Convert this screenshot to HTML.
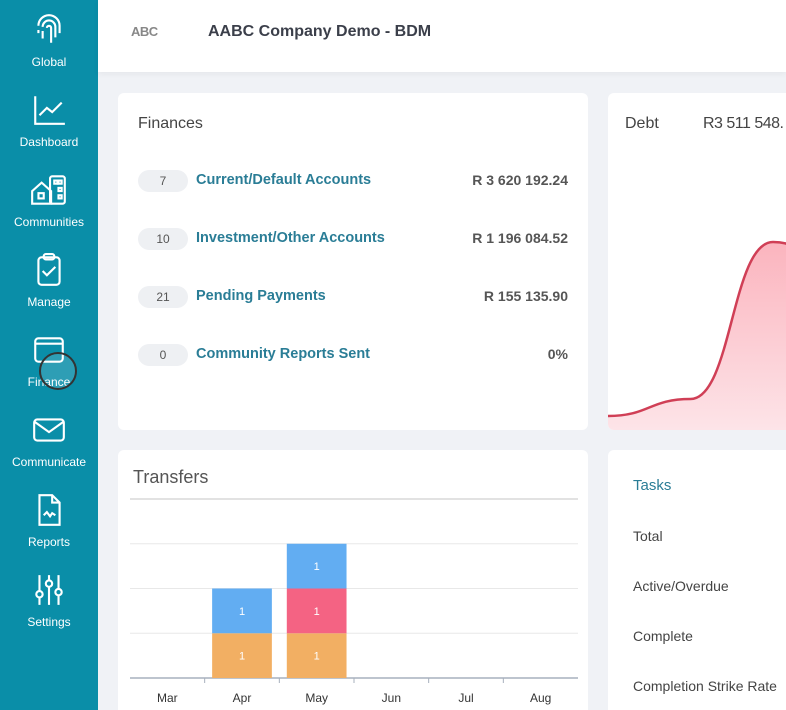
<!DOCTYPE html>
<html><head><meta charset="utf-8">
<style>
*{margin:0;padding:0;box-sizing:border-box}
html,body{width:786px;height:710px;overflow:hidden}
body{background:#f0f2f6;font-family:"Liberation Sans",sans-serif;position:relative}
#sidebar{position:absolute;left:0;top:0;width:98px;height:710px;background:#0a8ea8}
.nav{position:absolute;left:0;width:98px;text-align:center;color:#fff;font-size:12px}
.nav svg{display:block;margin:0 auto 7px}
#header{position:absolute;left:98px;top:0;width:688px;height:72px;background:#fff;box-shadow:0 2px 6px rgba(0,0,0,.05)}
.card{position:absolute;background:#fff;border-radius:6px}
.pill{position:absolute;left:20px;width:50px;height:22px;border-radius:11px;background:#eef0f3;color:#555;font-size:12px;text-align:center;line-height:22px}
.flink{position:absolute;left:78px;color:#2a7d96;font-weight:bold;font-size:14.5px}
.famt{position:absolute;right:20px;color:#555;font-weight:bold;font-size:14px}
.task{position:absolute;left:25px;color:#444;font-size:14px}
</style></head><body>
<div id="sidebar">
 <div class="nav" style="top:12px"><svg width="36" height="36" viewBox="0 0 34 34" fill="none" stroke="#fff" stroke-width="2"><path d="M7 13a10 10 0 0 1 20 0v7"/><path d="M11 14a6 6 0 0 1 12 0v10"/><path d="M15 15a2 2 0 0 1 4 0v14"/><path d="M11 18v7M7 17v3"/></svg>Global</div>
 <div class="nav" style="top:92px"><svg width="36" height="36" viewBox="0 0 34 34" fill="none" stroke="#fff" stroke-width="2"><path d="M4 4v26h28"/><path d="M8 22l7-7 5 4 9-9"/></svg>Dashboard</div>
 <div class="nav" style="top:172px"><svg width="40" height="36" viewBox="0 0 38 34" fill="none" stroke="#fff" stroke-width="2"><path d="M3 30V18l9-8 9 8v12z"/><rect x="20" y="4" width="14" height="26" rx="2"/><rect x="9" y="20" width="5" height="5"/><rect x="24" y="8" width="3" height="3"/><rect x="28" y="8" width="3" height="3"/><rect x="28" y="15" width="3" height="3"/><rect x="28" y="22" width="3" height="3"/></svg>Communities</div>
 <div class="nav" style="top:252px"><svg width="36" height="36" viewBox="0 0 34 34" fill="none" stroke="#fff" stroke-width="2"><rect x="7" y="5" width="20" height="26" rx="3"/><rect x="12" y="2" width="10" height="5" rx="2"/><path d="M11 18l4 4 8-8"/></svg>Manage</div>
 <div class="nav" style="top:332px"><svg width="36" height="36" viewBox="0 0 34 34" fill="none" stroke="#fff" stroke-width="2"><rect x="4" y="6" width="26" height="22" rx="3"/><path d="M4 11h26"/></svg>Finance</div>
 <div class="nav" style="top:412px"><svg width="36" height="36" viewBox="0 0 34 34" fill="none" stroke="#fff" stroke-width="2"><rect x="3" y="7" width="28" height="20" rx="3"/><path d="M3 9l14 10 14-10"/></svg>Communicate</div>
 <div class="nav" style="top:492px"><svg width="36" height="36" viewBox="0 0 34 34" fill="none" stroke="#fff" stroke-width="2"><path d="M8 3h12l7 7v21H8z"/><path d="M20 3v7h7"/><path d="M12 22l3-3 3 4 2-3 3 2"/></svg>Reports</div>
 <div class="nav" style="top:572px"><svg width="36" height="36" viewBox="0 0 34 34" fill="none" stroke="#fff" stroke-width="2"><path d="M8 3v28M17 3v28M26 3v28"/><circle cx="8" cy="21" r="3" fill="#0a8ea8"/><circle cx="17" cy="11" r="3" fill="#0a8ea8"/><circle cx="26" cy="19" r="3" fill="#0a8ea8"/></svg>Settings</div>
 <div style="position:absolute;left:39px;top:352px;width:38px;height:38px;border-radius:50%;border:2px solid #333;background:rgba(255,255,255,.15)"></div>
</div>
<div id="header">
 <div style="position:absolute;left:33px;top:24px;color:#888;font-weight:bold;font-size:13px;letter-spacing:-0.5px">ABC</div>
 <div style="position:absolute;left:110px;top:23px;color:#3b3f4a;font-weight:bold;font-size:16px">AABC Company Demo - BDM</div>
</div>
<div class="card" style="left:118px;top:93px;width:470px;height:337px">
 <div style="position:absolute;left:20px;top:22px;font-size:16px;color:#444">Finances</div>
 <div class="pill" style="top:77px">7</div>
 <div class="flink" style="top:79px">Current/Default Accounts</div>
 <div class="famt" style="top:79px">R 3 620 192.24</div>
 <div class="pill" style="top:135px">10</div>
 <div class="flink" style="top:137px">Investment/Other Accounts</div>
 <div class="famt" style="top:137px">R 1 196 084.52</div>
 <div class="pill" style="top:193px">21</div>
 <div class="flink" style="top:195px">Pending Payments</div>
 <div class="famt" style="top:195px">R 155 135.90</div>
 <div class="pill" style="top:251px">0</div>
 <div class="flink" style="top:253px">Community Reports Sent</div>
 <div class="famt" style="top:253px">0%</div>
</div>
<div class="card" style="left:608px;top:93px;width:190px;height:337px;overflow:hidden">
 <div style="position:absolute;left:17px;top:22px;font-size:16px;color:#444">Debt</div>
 <div style="position:absolute;left:95px;top:22px;font-size:16px;color:#444;white-space:nowrap;letter-spacing:-0.5px">R3 511 548.</div>
 <svg id="debt" width="190" height="337" style="position:absolute;left:0;top:0">
  <defs><linearGradient id="g" x1="0" y1="0" x2="0" y2="1"><stop offset="0" stop-color="#fbb4be"/><stop offset="1" stop-color="#fde4e8"/></linearGradient></defs>
 </svg>
</div>
<div class="card" style="left:118px;top:450px;width:470px;height:270px">
 <div style="position:absolute;left:15px;top:17px;font-size:18px;color:#555">Transfers</div>
 <svg id="tr" width="470" height="260" style="position:absolute;left:0;top:0"></svg>
</div>
<div class="card" style="left:608px;top:450px;width:190px;height:270px">
 <div style="position:absolute;left:25px;top:27px;font-size:15px;color:#2a7d96">Tasks</div>
 <div class="task" style="top:78px">Total</div>
 <div class="task" style="top:128px">Active/Overdue</div>
 <div class="task" style="top:178px">Complete</div>
 <div class="task" style="top:228px;white-space:nowrap">Completion Strike Rate</div>
</div>
<script>
const months=["Mar","Apr","May","Jun","Jul","Aug"];
const seriesOrange=[0,1,1,0,0,0];
const seriesRed=[0,0,1,0,0,0];
const seriesBlue=[0,1,1,0,0,0];
const yMax=4;
const debtValues=[14,31,188,150];
const NS="http://www.w3.org/2000/svg";
function mk(p,t,a){const e=document.createElementNS(NS,t);for(const k in a)e.setAttribute(k,a[k]);p.appendChild(e);return e;}
const tr=document.getElementById('tr');
const L=12,R=460,T=49,B=228,bw=(R-L)/months.length;
const xs=i=>L+i*bw, ys=v=>B-(v/yMax)*(B-T);
for(let v=1;v<=yMax;v++){const g=mk(tr,'line',{x1:L,x2:R,y1:ys(v),y2:ys(v),stroke:v==yMax?'#e2e2e2':'#e8e8e8','stroke-width':v==yMax?2:1});

}
const ax=mk(tr,'line',{x1:L,x2:R,y1:B,y2:B,stroke:'#a7b0bd','stroke-width':1.5});


months.forEach((m,i)=>{
 if(i>0){const t=mk(tr,'line',{x1:xs(i),x2:xs(i),y1:B,y2:B+5,stroke:'#a7b0bd'});
 
 }
 const tx=mk(tr,'text',{x:xs(i)+bw/2,y:B+24,'text-anchor':'middle','font-size':12,fill:'#333'});tx.textContent=m;
 
 
 let base=0;
 [[seriesOrange,'#f2af63'],[seriesRed,'#f46383'],[seriesBlue,'#62adf2']].forEach(([s,c])=>{
  const v=s[i];if(!v)return;
  const x=xs(i)+bw*0.1,w=bw*0.8,y=ys(base+v),h=ys(base)-ys(base+v);
  const r=mk(tr,'rect',{x:x,y:y,width:w,height:h,fill:c});
  
  
  const lt=mk(tr,'text',{x:x+w/2,y:y+h/2+4,'text-anchor':'middle','font-size':11,fill:'#fff'});lt.textContent=v;
  
  
  base+=v;});
});
const dg=document.getElementById('debt');
const dx=i=>i*82.5, dy=v=>337-v;
let d='M'+dx(0)+' '+dy(debtValues[0]);
for(let i=1;i<debtValues.length;i++){const x0=dx(i-1),x1=dx(i),m=(x0+x1)/2;d+=` C${m} ${dy(debtValues[i-1])} ${m} ${dy(debtValues[i])} ${x1} ${dy(debtValues[i])}`;}
const area=mk(dg,'path',{d:d+` L${dx(debtValues.length-1)} 337 L0 337 Z`,fill:'url(#g)'});


const ln=mk(dg,'path',{d:d,fill:'none',stroke:'#d03f56','stroke-width':2.5});


</script>
</body></html>
